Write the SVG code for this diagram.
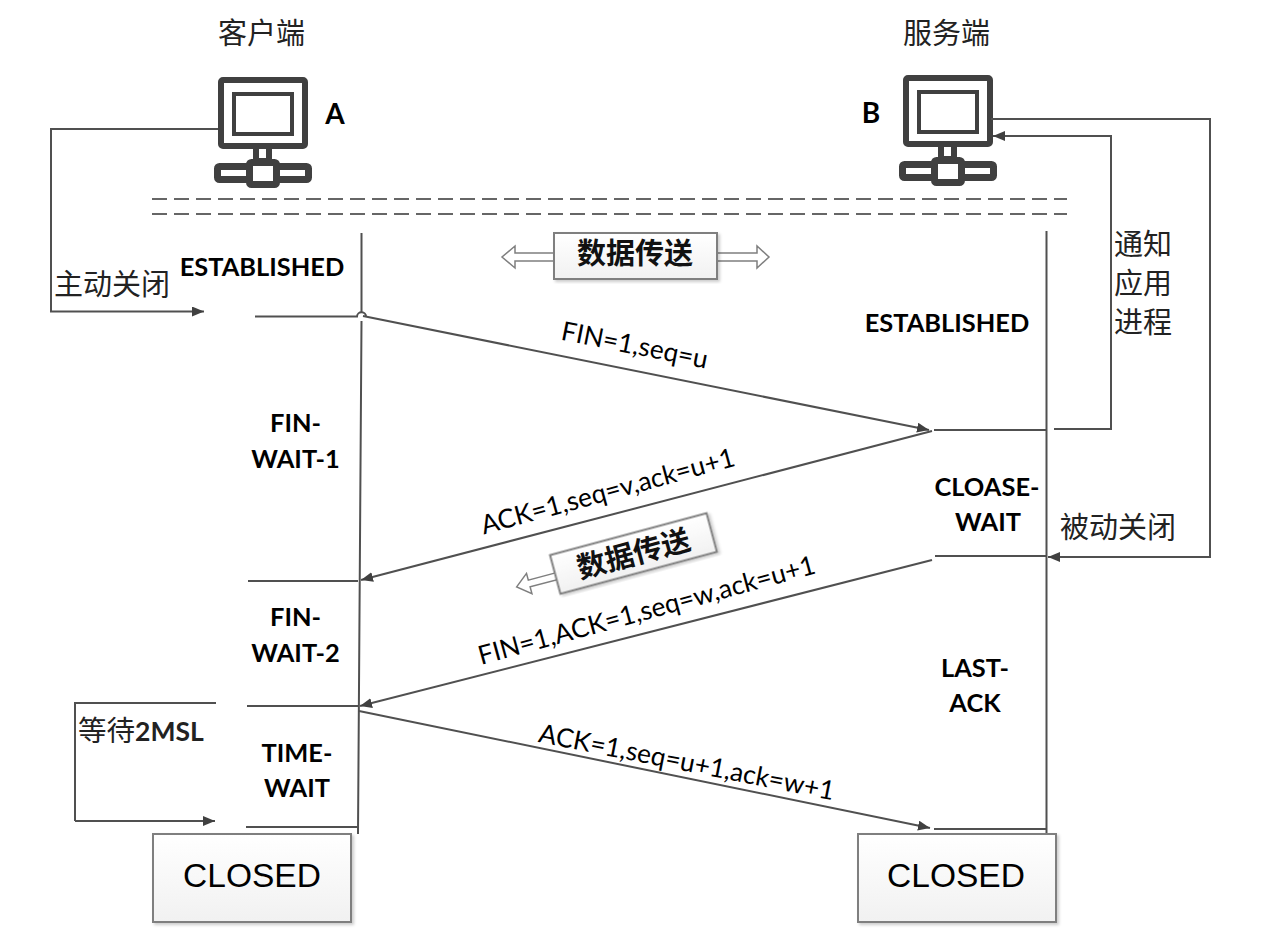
<svg xmlns="http://www.w3.org/2000/svg" width="1263" height="943" viewBox="0 0 1263 943">
<style>
.ln{fill:none;stroke:#505050;stroke-width:2}
.arr{fill:none;stroke:#505050;stroke-width:2;marker-end:url(#ah)}
.dash{fill:none;stroke:#666;stroke-width:2;stroke-dasharray:15 7}
.st{font-family:"Lato","Open Sans",sans-serif;font-weight:700;font-size:25.4px;fill:#000;text-anchor:middle}
.msg{font-family:"Lato","Open Sans",sans-serif;font-size:26.3px;fill:#000;text-anchor:middle}
.cn{font-family:"Noto Sans CJK SC",sans-serif;font-size:29px;fill:#222;font-weight:400}
.cnb{font-family:"Noto Sans CJK SC",sans-serif;font-size:29px;font-weight:700;fill:#111;text-anchor:middle}
.box{fill:url(#g);stroke:#7f7f7f;stroke-width:2;filter:url(#sh)}
.fat{fill:#fff;stroke:#7f7f7f;stroke-width:1.5;stroke-linejoin:miter}
.cl{font-family:"Liberation Sans",sans-serif;font-size:33.5px;fill:#000;text-anchor:middle}
.pc{fill:#fff;stroke:#404040;stroke-width:6;stroke-linejoin:round}
.pb{fill:#fff;stroke:#404040;stroke-width:7;stroke-linejoin:round}
.pi{fill:#fff;stroke:#404040;stroke-width:4}
</style>
<defs>
<linearGradient id="g" x1="0" y1="0" x2="0" y2="1"><stop offset="0" stop-color="#fff"/><stop offset="1" stop-color="#f1f1f1"/></linearGradient>
<filter id="sh" x="-5%" y="-5%" width="112%" height="115%"><feDropShadow dx="2" dy="2" stdDeviation="1.5" flood-color="#000" flood-opacity=".2"/></filter>
<marker id="ah" markerUnits="userSpaceOnUse" markerWidth="14" markerHeight="12" refX="12" refY="5" orient="auto"><path d="M0 0L12 5L0 10Z" fill="#404040"/></marker>
<g id="pcicon">
<rect class="pc" x="3" y="3" width="84" height="66" rx="2"/>
<rect class="pi" x="16" y="17" width="58" height="40"/>
<rect class="pc" x="38" y="69" width="13" height="15"/>
<rect class="pb" x="-0.5" y="89.5" width="91" height="13" rx="2"/>
<rect class="pb" x="31.5" y="85.5" width="27" height="22" rx="2"/>
</g>
</defs>
<text class="cn" x="218" y="44">客户端</text>
<text class="cn" x="903" y="44">服务端</text>
<g id="client-a"><use href="#pcicon" x="218" y="77"/><text x="335" y="124" font-family="Lato,sans-serif" font-weight="700" font-size="28" text-anchor="middle">A</text></g>
<g id="server-b"><use href="#pcicon" x="903" y="75"/><text x="871" y="123" font-family="Lato,sans-serif" font-weight="700" font-size="28" text-anchor="middle">B</text></g>
<g id="connectors">
<path class="dash" d="M152 199H1067M152 214H1067"/>
<path class="ln" d="M361.5 233V312M361.5 321L358 834"/>
<path class="ln" d="M1046.5 231V834"/>
<path class="arr" d="M218 129H51V311.5H204"/>
<path class="ln" d="M255 316.5H357A4.5 4.5 0 0 1 366 317"/>
<path class="arr" d="M363 316L929 430"/>
<path class="ln" d="M934 430H1046"/>
<path class="arr" d="M1054 429H1111V136H993"/>
<path class="arr" d="M991 119H1210V557H1048"/>
<path class="arr" d="M932 431L361 580"/>
<path class="ln" d="M248 581H358"/>
<path class="ln" d="M935 556H1046"/>
<path class="arr" d="M932 560L360 706"/>
<path class="ln" d="M247 706H358"/>
<path class="ln" d="M216 703H75V821"/>
<path class="arr" d="M75 821H215"/>
<path class="arr" d="M359 711L930 828"/>
<path class="ln" d="M246 827H358"/>
<path class="ln" d="M934 829H1046"/>
</g>
<g id="state-labels">
<text class="st" x="262" y="276">ESTABLISHED</text>
<text class="st" x="947" y="332">ESTABLISHED</text>
<text class="st" x="295.5" y="432">FIN-</text><text class="st" x="295.5" y="468">WAIT-1</text>
<text class="st" x="987" y="496">CLOASE-</text><text class="st" x="988" y="531">WAIT</text>
<text class="st" x="295.5" y="626">FIN-</text><text class="st" x="295.5" y="662">WAIT-2</text>
<text class="st" x="975" y="677">LAST-</text><text class="st" x="975" y="712">ACK</text>
<text class="st" x="297" y="762">TIME-</text><text class="st" x="297" y="797">WAIT</text>
</g>
<g id="message-labels">
<text class="msg" transform="translate(633 354) rotate(11.3)">FIN=1,seq=u</text>
<text class="msg" transform="translate(610 500) rotate(-15.3)">ACK=1,seq=v,ack=u+1</text>
<text class="msg" transform="translate(649 619) rotate(-15.3)">FIN=1,ACK=1,seq=w,ack=u+1</text>
<text class="msg" transform="translate(685 771) rotate(11.2)">ACK=1,seq=u+1,ack=w+1</text>
</g>
<g id="side-labels">
<text class="cn" x="54" y="295">主动关闭</text>
<text class="cn" x="1060" y="538">被动关闭</text>
<text class="cn" x="1114" y="255">通</text><text class="cn" x="1143" y="255">知</text>
<text class="cn" x="1114" y="294">应</text><text class="cn" x="1143" y="294">用</text>
<text class="cn" x="1114" y="333">进</text><text class="cn" x="1143" y="333">程</text>
<text class="cn" x="78" y="741" style="font-size:28.5px">等待<tspan font-family="Lato,sans-serif" font-weight="700" style="font-size:26.5px">2MSL</tspan></text>
</g>
<g id="data-transfer-top">
<path class="fat" d="M555 253H515V246L502 257L515 268V261H555Z"/>
<path class="fat" d="M717 253H757V246L769 257L757 268V261H717Z"/>
<rect class="box" x="554" y="233" width="163" height="46"/>
<text class="cnb" x="635" y="264">数据传送</text>
</g>
<g id="data-transfer-bottom">
<g transform="rotate(-15 633.5 553.5)">
<path class="fat" d="M556 552H525V545L512 555.5L525 566V559H556Z"/>
<rect class="box" x="552.5" y="533.5" width="162" height="40"/>
<text class="cnb" x="633.5" y="564">数据传送</text>
</g>
</g>
<g id="closed-a"><rect class="box" x="153" y="834" width="198" height="88"/><text class="cl" x="252" y="887">CLOSED</text></g>
<g id="closed-b"><rect class="box" x="858" y="834" width="198" height="88"/><text class="cl" x="956" y="887">CLOSED</text></g>
</svg>
